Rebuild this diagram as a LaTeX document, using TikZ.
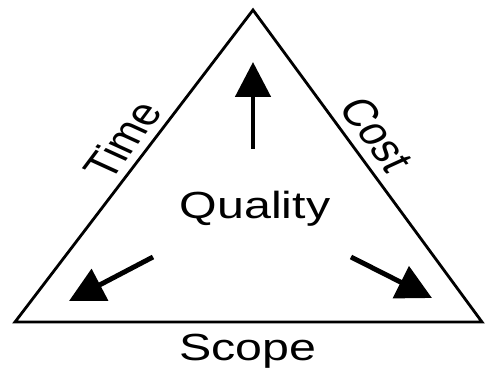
\documentclass[tikz,border=0pt]{standalone}
\usepackage{fontspec}
\setmainfont{Liberation Sans}
\usetikzlibrary{arrows.meta,positioning}

\begin{document}
\begin{tikzpicture}[
  x=0.02cm, y=-0.02cm,
  % ── node styles ──────────────────────────────────────────
  lbl/.style={inner sep=0pt, xscale=1.28,
    font=\fontsize{21.5}{26}\selectfont},
  % ── line styles ──────────────────────────────────────────
  side/.style={line width=1.6pt, line join=miter, draw=black},
  push/.style={line width=2.8pt, draw=black,
    -{Triangle[length=0.7cm, width=0.7cm]}},
]
\useasboundingbox (0,0) rectangle (485,371);

%% ── CORNERS ─────────────────────────────────────────────────
\coordinate (top)   at (253,10);
\coordinate (left)  at (15,322);
\coordinate (right) at (482,322);

\draw[side] (left) -- (top) -- (right) -- cycle;

%% ── LABELS ──────────────────────────────────────────────────
\node[lbl, rotate=59.7]  (time)    at (122,140) {Time};
\node[lbl, rotate=-59.7] (cost)    at (377,134) {Cost};
\node[lbl, anchor=base]  (quality) at (255,219) {Quality};
\node[lbl, anchor=base]  (scope)   at (248,361) {Scope};

%% ── ARROWS ──────────────────────────────────────────────────
\coordinate (upfrom)    at (253,149);
\coordinate (upto)      at (253,62);
\coordinate (leftfrom)  at (153,257);
\coordinate (leftto)    at (69,301);
\coordinate (rightfrom) at (351,257);
\coordinate (rightto)   at (432,298);

\draw[push] (upfrom) -- (upto);
\draw[push] (leftfrom) -- (leftto);
\draw[push] (rightfrom) -- (rightto);

\end{tikzpicture}
\end{document}
